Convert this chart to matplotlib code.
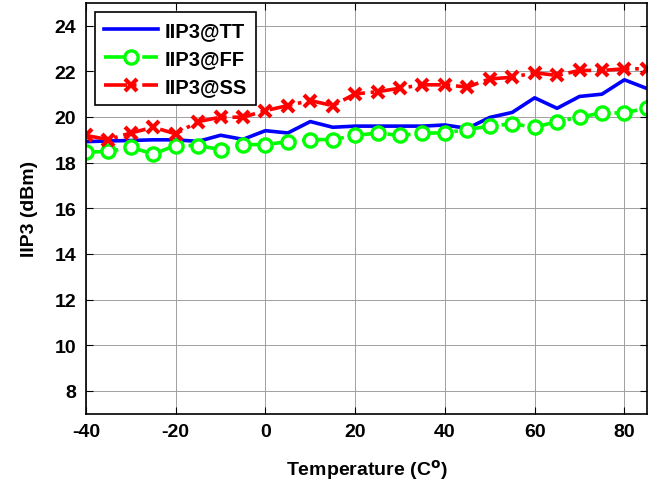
import numpy as np
import matplotlib.pyplot as plt

plt.rcParams['font.family'] = ['Liberation Sans', 'DejaVu Sans']
plt.rcParams['font.weight'] = 'bold'
plt.rcParams['axes.unicode_minus'] = False

# temperatura e IIP3 per i tre corner
temp = list(range(-40, 90, 5))
iip3_tt = [18.92, 18.95, 18.97, 19.0, 19.0, 18.93, 19.2, 19.02, 19.4, 19.3, 19.8, 19.55,
           19.6, 19.6, 19.6, 19.6, 19.65, 19.5, 19.98, 20.2, 20.84, 20.38, 20.9, 21.0, 21.63, 21.25]
iip3_ff = [18.46, 18.49, 18.67, 18.38, 18.75, 18.75, 18.57, 18.79, 18.79, 18.92, 19.01, 19.01,
           19.19, 19.3, 19.19, 19.3, 19.3, 19.45, 19.6, 19.7, 19.55, 19.8, 19.99, 20.18, 20.18, 20.39]
iip3_ss = [19.19, 19.01, 19.3, 19.55, 19.26, 19.8, 19.99, 19.99, 20.28, 20.5, 20.72, 20.5,
           21.01, 21.11, 21.26, 21.41, 21.41, 21.31, 21.67, 21.74, 21.94, 21.82, 22.04, 22.04, 22.11, 22.11]

fig = plt.figure(figsize=(6.56, 4.85), dpi=100)
ax = fig.add_axes([0.131, 0.145, 0.855, 0.847])

ax.plot(temp, iip3_tt, '-', color='#0000ff', lw=2.6, label='IIP3@TT')
ax.plot(temp, iip3_ff, '-.', color='#00ff00', lw=2.6, marker='o', ms=9.5,
        mfc='white', mec='#00ff00', mew=2.4, label='IIP3@FF')
ax.plot(temp, iip3_ss, '-.', color='#ff0000', lw=2.6, marker='x', ms=9,
        mew=3, label='IIP3@SS')

ax.set_xlim(-40, 85)
ax.set_ylim(7, 25)
ax.set_xticks(range(-40, 81, 20))
ax.set_yticks(range(8, 25, 2))
ax.grid(True, color='#a0a0a0', lw=0.7)
ax.tick_params(direction='in', top=True, right=True, labelsize=14, length=5, pad=7)
for lab in ax.get_xticklabels() + ax.get_yticklabels():
    lab.set_fontweight('bold')
for s in ax.spines.values():
    s.set_linewidth(1.2)

ax.set_xlabel('Temperature (C$^\\mathbf{o}$)', fontsize=14, fontweight='bold', labelpad=12)
ax.set_ylabel('IIP3 (dBm)', fontsize=14, fontweight='bold', labelpad=12)

leg = ax.legend(loc='upper left', handlelength=2.7, handletextpad=0.3, fancybox=False,
                edgecolor='black', framealpha=1, borderaxespad=0.45, labelspacing=0.45,
                borderpad=0.45, prop={'weight': 'bold', 'size': 14.5})
leg.get_frame().set_linewidth(1.2)

fig.savefig('out.png', dpi=100)
